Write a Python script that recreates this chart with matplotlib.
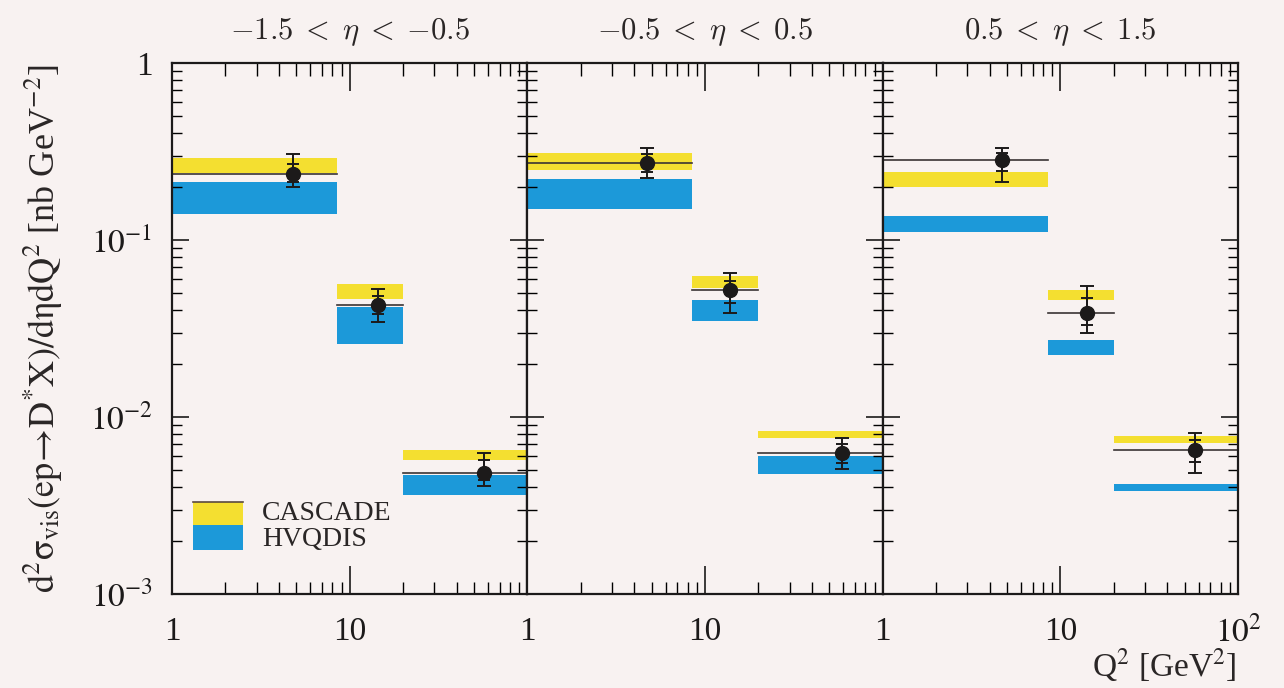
import matplotlib.pyplot as plt
from matplotlib.patches import Rectangle
from matplotlib.ticker import LogLocator, FixedLocator, FixedFormatter, NullFormatter

plt.rcParams['font.family'] = ['Liberation Serif', 'DejaVu Serif']
plt.rcParams['mathtext.fontset'] = 'stix'

eta_labels = [r'${-1.5}\;<\;\eta\;<\;{-0.5}$', r'${-0.5}\;<\;\eta\;<\;0.5$', r'$0.5\;<\;\eta\;<\;1.5$']
q2_edges = [1.0, 8.5, 20.0, 100.0]
q2_points = [[4.8, 14.5, 57.0], [4.7, 13.8, 59.0], [4.7, 14.2, 57.0]]

# measured cross sections (nb GeV^-2) per eta bin
sigma = [[0.235, 0.043, 0.00485], [0.273, 0.0521, 0.00627], [0.284, 0.0388, 0.00651]]
# total error limits
tot_hi = [[0.305, 0.053, 0.0063], [0.331, 0.0649, 0.0076], [0.331, 0.0549, 0.0081]]
tot_lo = [[0.200, 0.0344, 0.0041], [0.225, 0.0388, 0.0051], [0.214, 0.030, 0.00485]]
# statistical error limits
stat_hi = [[0.270, 0.048, 0.0057], [0.305, 0.059, 0.0070], [0.310, 0.047, 0.0074]]
stat_lo = [[0.212, 0.038, 0.0044], [0.243, 0.044, 0.0055], [0.245, 0.033, 0.0056]]

# theory bands
cascade_lo = [[0.238, 0.0465, 0.00575], [0.250, 0.0535, 0.0076], [0.198, 0.0459, 0.00713]]
cascade_hi = [[0.289, 0.0565, 0.00655], [0.311, 0.0624, 0.0083], [0.2434, 0.0521, 0.0078]]
hvqdis_lo = [[0.141, 0.0258, 0.00361], [0.1496, 0.035, 0.00478], [0.111, 0.0223, 0.0038]]
hvqdis_hi = [[0.214, 0.0418, 0.00468], [0.220, 0.0459, 0.00603], [0.1366, 0.0271, 0.00421]]

yellow = '#f4df30'
blue = '#1c99d9'
bg = '#f8f2f1'
ink = '#1c1a1a'
text_col = '#2a2626'

fig = plt.figure(figsize=(12.84, 6.88), dpi=100, facecolor=bg)
x0, x1 = 172 / 1284, 1238 / 1284
y0, y1 = 1 - 594 / 688, 1 - 63 / 688
w = (x1 - x0) / 3

for i in range(3):
    ax = fig.add_axes([x0 + i * w, y0, w, y1 - y0])
    ax.set_facecolor(bg)
    ax.set_xscale('log')
    ax.set_yscale('log')
    ax.set_xlim(1, 100)
    ax.set_ylim(1e-3, 1)

    for j in range(3):
        lo, hi = q2_edges[j], q2_edges[j + 1]
        ax.fill_between([lo, hi], cascade_lo[i][j], cascade_hi[i][j], color=yellow, lw=0, zorder=1)
        ax.fill_between([lo, hi], hvqdis_lo[i][j], hvqdis_hi[i][j], color=blue, lw=0, zorder=1)
        # bin width
        ax.plot([lo, hi], [sigma[i][j], sigma[i][j]], color='#3a3434', lw=1.2, zorder=2)

    xs = q2_points[i]
    ys = sigma[i]
    err_tot = [[s - l for s, l in zip(ys, tot_lo[i])], [h - s for s, h in zip(ys, tot_hi[i])]]
    err_stat = [[s - l for s, l in zip(ys, stat_lo[i])], [h - s for s, h in zip(ys, stat_hi[i])]]
    ax.errorbar(xs, ys, yerr=err_tot, fmt='none', ecolor=ink, elinewidth=1.4, capsize=5, capthick=1.4, zorder=3)
    ax.errorbar(xs, ys, yerr=err_stat, fmt='none', ecolor=ink, elinewidth=1.4, capsize=4, capthick=1.4, zorder=3)
    ax.plot(xs, ys, 'o', color=ink, ms=10, zorder=4)

    ax.set_title(eta_labels[i], fontsize=22, pad=17, color=text_col, math_fontfamily='cm')

    for s in ax.spines.values():
        s.set_linewidth(1.6)
        s.set_color(ink)

    ax.xaxis.set_major_locator(FixedLocator([1, 10, 100]))
    ax.xaxis.set_minor_locator(LogLocator(base=10, subs=range(2, 10)))
    ax.xaxis.set_minor_formatter(NullFormatter())
    if i == 2:
        ax.xaxis.set_major_formatter(FixedFormatter(['1', '10', r'$10^{2}$']))
    else:
        ax.xaxis.set_major_formatter(FixedFormatter(['1', '10', '']))

    ax.yaxis.set_major_locator(FixedLocator([1e-3, 1e-2, 1e-1, 1]))
    ax.yaxis.set_minor_locator(LogLocator(base=10, subs=range(2, 10)))
    ax.yaxis.set_minor_formatter(NullFormatter())
    ax.yaxis.set_major_formatter(FixedFormatter([r'$10^{-3}$', r'$10^{-2}$', r'$10^{-1}$', '1']))

    ax.tick_params(axis='x', which='major', direction='in', top=True, length=20, width=1.2,
                   labelsize=24, pad=16, colors=ink)
    ax.tick_params(axis='x', which='minor', direction='in', top=True, length=9, width=1.0)
    ax.tick_params(axis='y', which='major', direction='in', right=True, length=12, width=1.2,
                   labelsize=24, pad=14, colors=ink, labelleft=(i == 0))
    ax.tick_params(axis='y', which='minor', direction='in', right=True, length=7, width=1.0)

    if i == 0:
        ax.set_ylabel(r'$\mathrm{d^2\sigma_{vis}(ep\!\rightarrow\! D^{*}X)/d\eta dQ^2}$ [nb GeV$^{-2}$]',
                      fontsize=26, labelpad=18, color=text_col)
        # legend: stacked colour box with labels
        ax.add_patch(Rectangle((0.059, 0.130), 0.141, 0.043, transform=ax.transAxes,
                               facecolor=yellow, edgecolor='none', zorder=5))
        ax.add_patch(Rectangle((0.059, 0.083), 0.141, 0.047, transform=ax.transAxes,
                               facecolor=blue, edgecolor='none', zorder=5))
        ax.plot([0.059, 0.2], [0.173, 0.173], transform=ax.transAxes, color='#5a4a40', lw=1.2, zorder=6)
        ax.text(0.254, 0.151, 'CASCADE', transform=ax.transAxes, fontsize=20, va='center',
                color=text_col)
        ax.text(0.254, 0.102, 'HVQDIS', transform=ax.transAxes, fontsize=20, va='center',
                color=text_col)

fig.text(1237 / 1284, 1 - 676 / 688, r'Q$^2$ [GeV$^2$]', fontsize=24, ha='right', va='baseline',
         color=text_col)

fig.savefig('out.png', dpi=100, facecolor=bg)
